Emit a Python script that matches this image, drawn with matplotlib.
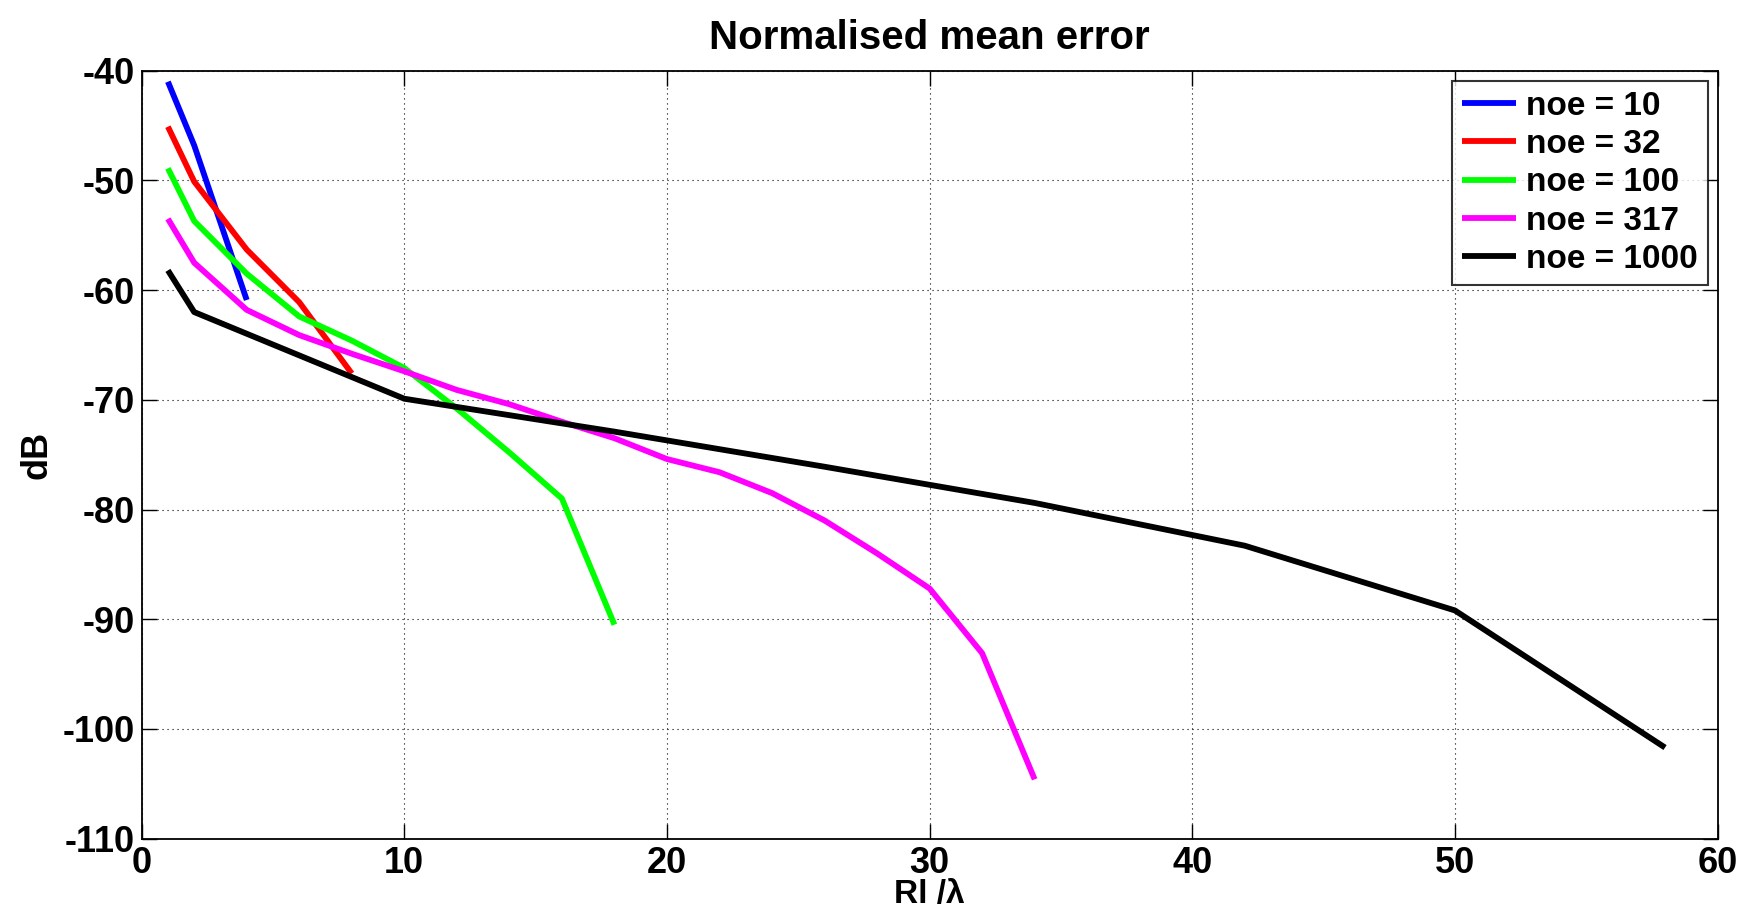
import matplotlib
matplotlib.use("Agg")
import matplotlib.pyplot as plt

# normalised mean error (dB) against Rl/lambda for each number of elements
x_10 = [1, 2, 4]
y_10 = [-41.0, -46.8, -60.9]

x_32 = [1, 2, 4, 6, 8]
y_32 = [-45.1, -50.1, -56.3, -61.1, -67.6]

x_100 = [1, 2, 4, 6, 8, 10, 12, 14, 16, 18]
y_100 = [-48.9, -53.7, -58.5, -62.4, -64.6, -67.1, -70.8, -74.8, -79.0, -90.5]

x_317 = [1, 2, 4, 6, 8, 10, 12, 14, 16, 18, 20, 22, 24, 26, 28, 30, 32, 34]
y_317 = [-53.5, -57.5, -61.8, -64.1, -65.8, -67.4, -69.1, -70.4, -72.0, -73.5,
         -75.4, -76.6, -78.5, -81.0, -84.0, -87.2, -93.1, -104.6]

x_1000 = [1, 2, 10, 18, 26, 34, 42, 50, 58]
y_1000 = [-58.2, -62.0, -69.9, -72.9, -76.1, -79.4, -83.3, -89.2, -101.7]

labels = ["noe = 10", "noe = 32", "noe = 100", "noe = 317", "noe = 1000"]
colors = ["#0000ff", "#ff0000", "#00ff00", "#ff00ff", "#000000"]

plt.rcParams["font.family"] = ["Liberation Sans", "DejaVu Sans"]
plt.rcParams["axes.unicode_minus"] = False

fig = plt.figure(figsize=(17.51, 9.14), dpi=100)
ax = fig.add_axes([0.0809, 0.0825, 0.900, 0.8401])

series = [(x_10, y_10), (x_32, y_32), (x_100, y_100), (x_317, y_317), (x_1000, y_1000)]
for (xs, ys), lab, col in zip(series, labels, colors):
    ax.plot(xs, ys, color=col, lw=4.2, label=lab, solid_capstyle="butt")

ax.set_xlim(0, 60)
ax.set_ylim(-110, -40)
ax.set_xticks(range(0, 61, 10))
ax.set_yticks(range(-110, -39, 10))
ax.grid(True, color="black", linestyle=(0, (1, 3.5)), linewidth=0.8)
ax.tick_params(direction="in", length=11, width=1, top=True, right=True,
               labelsize=26, pad=5)
for lbl in ax.get_xticklabels() + ax.get_yticklabels():
    lbl.set_fontweight("bold")
for sp in ax.spines.values():
    sp.set_linewidth(1.3)

ax.set_title("Normalised mean error", fontsize=29, fontweight="bold", pad=16)
ax.set_xlabel("Rl /λ", fontsize=24, fontweight="bold", labelpad=-1)
ax.set_ylabel("dB", fontsize=26, fontweight="bold", labelpad=6)

leg = ax.legend(loc="upper right", fontsize=24, frameon=True, fancybox=False,
                edgecolor="black", handlelength=1.6, handletextpad=0.3,
                labelspacing=0.22, borderpad=0.3, borderaxespad=0.3)
leg.get_frame().set_linewidth(1.5)
for t in leg.get_texts():
    t.set_fontweight("bold")

fig.savefig("out.png", dpi=100)
